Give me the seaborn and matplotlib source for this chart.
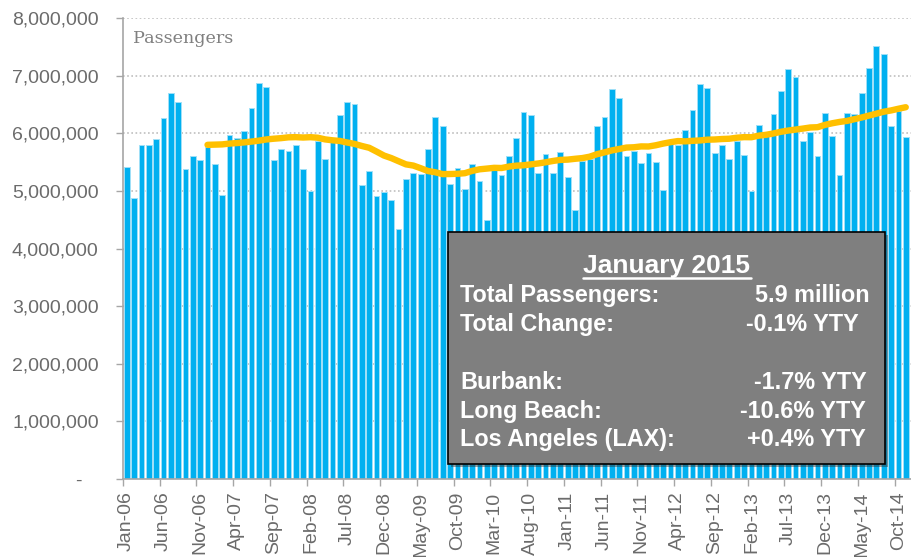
import pandas as pd
import matplotlib.pyplot as plt
import matplotlib.patches as mpatches
import matplotlib.lines as mlines
from matplotlib.ticker import FuncFormatter, FixedLocator
import seaborn as sns
import numpy as np

# monthly passengers (millions), Jan-06 .. Nov-14 (Dec-14 / Jan-15 are cut off at right)
months = pd.date_range("2006-01-01", "2014-11-01", freq="MS").strftime("%b-%y").tolist()
passengers_m = [
    5.42, 4.88, 5.80, 5.80, 5.90, 6.27, 6.69, 6.55, 5.38, 5.61, 5.53, 5.76,
    5.46, 4.93, 5.97, 5.91, 6.04, 6.44, 6.88, 6.80, 5.53, 5.73, 5.70, 5.80,
    5.38, 5.00, 5.86, 5.56, 5.85, 6.31, 6.55, 6.51, 5.10, 5.35, 4.91, 4.98,
    4.85, 4.34, 5.21, 5.31, 5.30, 5.72, 6.29, 6.13, 5.12, 5.40, 5.03, 5.46,
    5.18, 4.49, 5.37, 5.27, 5.60, 5.91, 6.37, 6.32, 5.31, 5.64, 5.31, 5.68,
    5.24, 4.66, 5.52, 5.56, 6.12, 6.29, 6.77, 6.62, 5.61, 5.70, 5.49, 5.66,
    5.50, 5.01, 5.81, 5.79, 6.06, 6.40, 6.85, 6.78, 5.65, 5.80, 5.55, 5.87,
    5.62, 4.99, 6.14, 5.97, 6.34, 6.74, 7.11, 6.98, 5.86, 6.03, 5.61, 6.35,
    5.96, 5.27, 6.35, 6.33, 6.69, 7.14, 7.51, 7.38, 6.13, 6.38, 5.93,
]

box_title = "January 2015"
box_rows = [
    ("Total Passengers:", "5.9 million"),
    ("Total Change:", "-0.1% YTY"),
    ("Burbank:", "-1.7% YTY"),
    ("Long Beach:", "-10.6% YTY"),
    ("Los Angeles (LAX):", "+0.4% YTY"),
]

df = pd.DataFrame({"Month": months, "Passengers": np.array(passengers_m) * 1e6})
df["pos"] = np.arange(len(df))
# 12 month moving average trend line (as in the original chart)
df["MovAvg"] = df["Passengers"].rolling(12).mean()

sns.set_style("white")
plt.rcParams["font.family"] = ["Liberation Sans", "DejaVu Sans"]

W, H = 912, 557
fig = plt.figure(figsize=(W / 100, H / 100), dpi=100)
ax = fig.add_axes([123 / W, 78 / H, 789 / W, 461 / H])

ax.yaxis.grid(True, linestyle=(0, (1, 1.5)), color="#bfbfbf", linewidth=1.2)
ax.set_axisbelow(True)

sns.barplot(data=df, x="Month", y="Passengers", order=months, color="#00B0F0",
            saturation=1, width=0.78, edgecolor="#9fe0f8", linewidth=0.7, ax=ax)
sns.lineplot(data=df, x="pos", y="MovAvg", color="#FFC000", linewidth=4.6,
             solid_capstyle="round", ax=ax)

ax.set_xlim(-0.5, 106.85)
ax.set_ylim(0, 8e6)
ax.set_xlabel("")
ax.set_ylabel("")

ax.yaxis.set_major_locator(FixedLocator(np.arange(0, 8.5e6, 1e6)))
ax.yaxis.set_major_formatter(FuncFormatter(lambda v, p: "-   " if v == 0 else f"{int(v):,}"))

tick_pos = list(range(0, len(months), 5))
ax.set_xticks(tick_pos)
ax.set_xticklabels([months[i] for i in tick_pos], rotation=90)
ax.set_xticks([p - 0.5 for p in tick_pos], minor=True)
ax.tick_params(axis="x", which="major", length=0, pad=9, labelsize=14, labelcolor="#6b6b6b")
ax.tick_params(axis="x", which="minor", length=5, width=1, color="#a6a6a6", direction="out")
ax.tick_params(axis="y", length=5, width=1, color="#a6a6a6", direction="out", pad=12.5,
               labelsize=14, labelcolor="#6b6b6b")
ax.tick_params(bottom=True, left=True)
ax.xaxis.set_tick_params(which="minor", bottom=True)

for side in ["top", "right"]:
    ax.spines[side].set_visible(False)
for side in ["left", "bottom"]:
    ax.spines[side].set_color("#a6a6a6")
    ax.spines[side].set_linewidth(1.2)

fig.text(133 / W, 1 - 43 / H, "Passengers", family="DejaVu Serif", fontsize=12.6,
         color="#808080", va="baseline")


def fx(x):
    return x / W


def fy(y):
    return 1 - y / H


# summary box
bx0, bx1, by0, by1 = 448, 885, 232, 464
fig.patches.append(mpatches.Rectangle((fx(bx0 + 3), fy(by1 + 3)), fx(bx1 - bx0), (by1 - by0) / H,
                                      transform=fig.transFigure, facecolor="#303030",
                                      alpha=0.45, edgecolor="none", zorder=5))
fig.patches.append(mpatches.Rectangle((fx(bx0), fy(by1)), fx(bx1 - bx0), (by1 - by0) / H,
                                      transform=fig.transFigure, facecolor="#7f7f7f",
                                      edgecolor="black", linewidth=1.2, zorder=6))

fig.text(fx(666.7), fy(273.3), box_title, ha="center", va="baseline", fontsize=19,
         fontweight="bold", color="white", zorder=7)
fig.lines.append(mlines.Line2D([fx(582.7), fx(750.7)], [fy(277.5), fy(277.5)],
                               transform=fig.transFigure, color="white", linewidth=1.8, zorder=7))

row_y = [302.3, 331, 389.3, 417.7, 445.7]
row_right = [870, 858.3, 866.7, 866, 866]
for (lab, val), y, xr in zip(box_rows, row_y, row_right):
    fig.text(fx(460), fy(y), lab, ha="left", va="baseline", fontsize=16.8,
             fontweight="bold", color="white", zorder=7)
    fig.text(fx(xr), fy(y), val, ha="right", va="baseline", fontsize=16.8,
             fontweight="bold", color="white", zorder=7)

fig.savefig("out.png", dpi=100)
